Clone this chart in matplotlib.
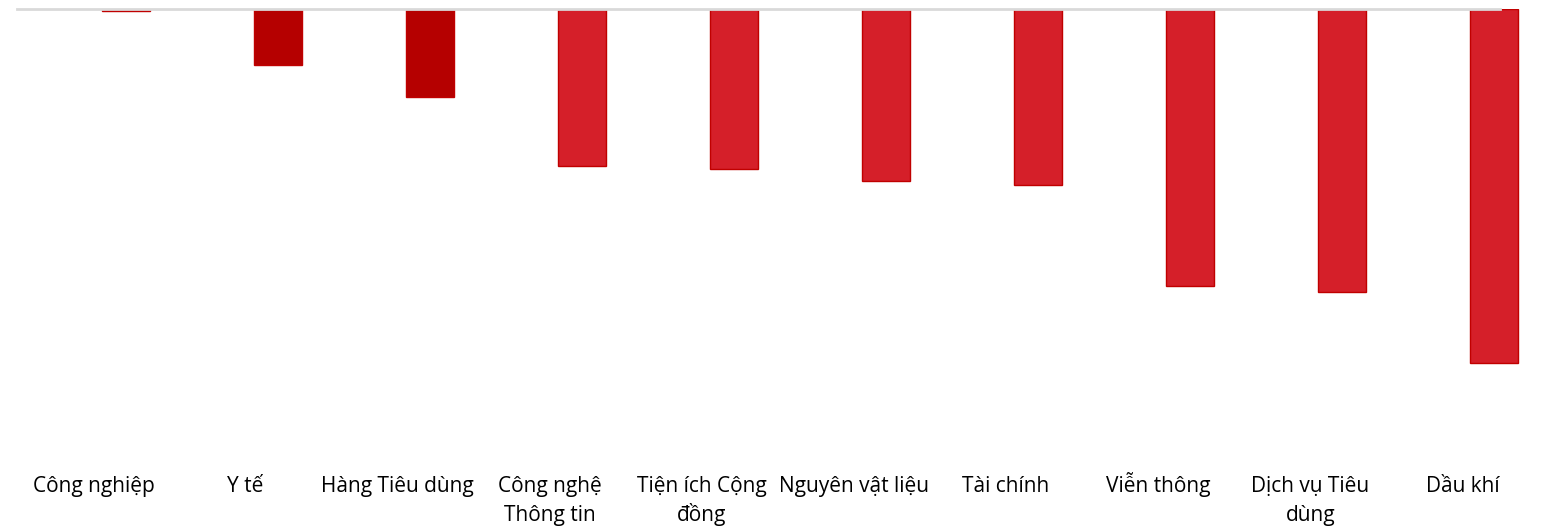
import matplotlib
matplotlib.use("Agg")
import matplotlib.pyplot as plt
from matplotlib import font_manager
from matplotlib.transforms import offset_copy

categories = ["Công nghiệp", "Y tế", "Hàng Tiêu dùng", "Công nghệ\nThông tin",
              "Tiện ích Cộng\nđồng", "Nguyên vật liệu", "Tài chính", "Viễn thông",
              "Dịch vụ Tiêu\ndùng", "Dầu khí"]
values = [-0.02, -0.56, -0.88, -1.57, -1.60, -1.72, -1.76, -2.77, -2.83, -3.54]
dark_flags = [True, True, True, False, False, False, False, False, False, False]

names = {f.name for f in font_manager.fontManager.ttflist}
fam = [f for f in ["Open Sans", "DejaVu Sans"] if f in names]
plt.rcParams['font.family'] = fam

W, H = 1563, 527
fig = plt.figure(figsize=(W / 100, H / 100), dpi=100)
left_px, right_px, top_px, bot_px = 17, 1563, 8.5, 460
ax = fig.add_axes([left_px / W, 1 - bot_px / H, (right_px - left_px) / W, (bot_px - top_px) / H])

spacing = 152.1
x0 = 93.5
xs = list(range(len(categories)))
offset = 32 / spacing
width = 48 / spacing
face = ["#B50000" if d else "#D51F29" for d in dark_flags]
ax.bar([x + offset for x in xs], values, width=width, color=face, edgecolor="#C00000", linewidth=1.0, zorder=2)

ax.set_xlim((left_px - x0) / spacing, (right_px - x0) / spacing)
ax.set_ylim(-(bot_px - top_px) / 100, 0)

for s in ["left", "right", "bottom"]:
    ax.spines[s].set_visible(False)
ax.spines["top"].set_color("#D9D9D9")
ax.spines["top"].set_linewidth(2)
ax.spines["top"].set_bounds((left_px - x0) / spacing, (1500 - x0) / spacing)
ax.spines["top"].set_zorder(3)

ax.set_yticks([])
ax.set_xticks(xs)
ax.set_xticklabels([])
ax.tick_params(axis="x", length=0)

base = ax.get_xaxis_transform()
for x, lab in zip(xs, categories):
    for i, line in enumerate(lab.split("\n")):
        tr = offset_copy(base, fig=fig, x=0, y=-(32 + 29 * i), units="dots")
        ax.text(x, 0, line, transform=tr, ha="center", va="baseline",
                fontsize=15, color="#000000", clip_on=False)

fig.savefig("out.png", dpi=100, facecolor="white")
